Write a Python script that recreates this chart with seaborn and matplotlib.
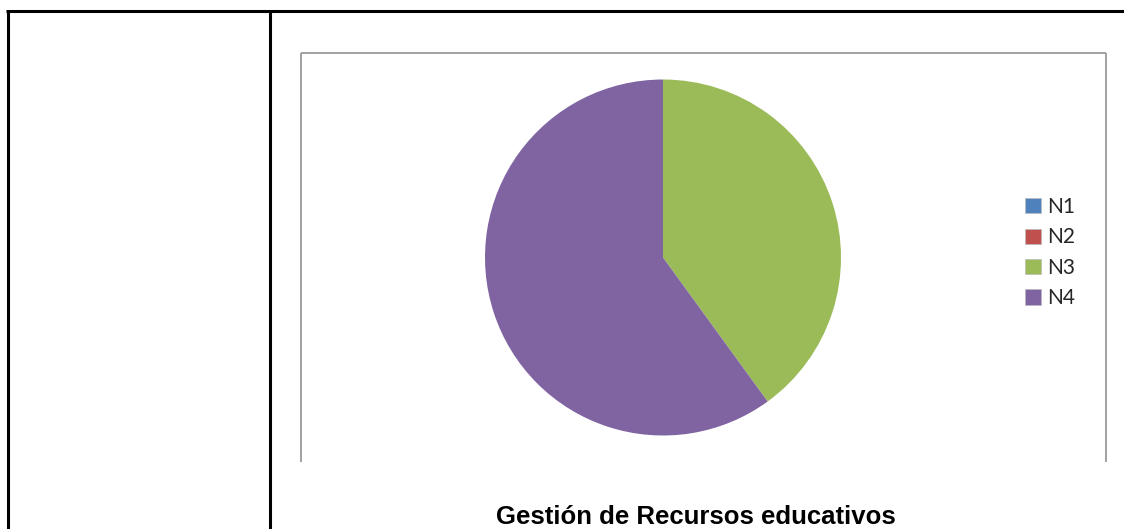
import matplotlib
matplotlib.use("Agg")
import matplotlib.pyplot as plt
import seaborn as sns
from matplotlib.lines import Line2D
from matplotlib.patches import Rectangle

categories = ["N1", "N2", "N3", "N4"]
values = [0, 0, 40, 60]
colors = ["#4F81BD", "#C0504D", "#9BBB59", "#8064A2"]
title = "Gestión de Recursos educativos"

sns.set_theme(style="white")
plt.rcParams['font.family'] = ['Liberation Sans', 'DejaVu Sans']

W, H = 1124, 529
fig = plt.figure(figsize=(W / 100, H / 100), dpi=100)
fig.patch.set_facecolor("white")

def px(x, y):
    return x / W, 1 - y / H

def fline(x0, y0, x1, y1, color, lw):
    a, b = px(x0, y0)
    c, d = px(x1, y1)
    fig.add_artist(Line2D([a, c], [b, d], transform=fig.transFigure,
                          color=color, linewidth=lw, solid_capstyle="butt"))

# table borders (black)
fline(6.5, 11, W, 11, "black", 2.2)
fline(8, 10, 8, H, "black", 2.2)
fline(270, 10, 270, H, "black", 2.2)

# chart frame (gray, bottom cut off)
fline(301, 53, 1106, 53, "#9a9a9a", 1.3)
fline(301, 53, 301, 462, "#9a9a9a", 1.3)
fline(1106, 53, 1106, 462, "#9a9a9a", 1.3)

# pie axes
cx, cy, r = 663, 257.5, 178
l, b = px(cx - r, cy + r)
ax = fig.add_axes([l, b, 2 * r / W, 2 * r / H])
pal = sns.color_palette(colors)
wedges, _ = ax.pie(values, colors=pal, startangle=90, counterclock=False,
                   radius=1, wedgeprops=dict(linewidth=0))
ax.set_xlim(-1, 1)
ax.set_ylim(-1, 1)
ax.set_aspect("equal")
ax.axis("off")

handles = [Rectangle((0, 0), 1, 1, facecolor=c, edgecolor="#bbbbbb", linewidth=0.5) for c in colors]
lx, ly = px(1025, 197)
fig.legend(handles, categories, loc="upper left", bbox_to_anchor=(lx, ly),
           bbox_transform=fig.transFigure, frameon=False,
           prop={'family': ['Lato', 'DejaVu Sans'], 'size': 15},
           handlelength=0.75, handleheight=0.75, handletextpad=0.3,
           labelspacing=0.5, borderpad=0, borderaxespad=0)

tx, ty = px(696, 517)
fig.text(tx, ty, title, ha="center", va="center", fontsize=18.5,
         fontweight="bold", color="black")

fig.savefig("out.png", dpi=100, facecolor="white")
